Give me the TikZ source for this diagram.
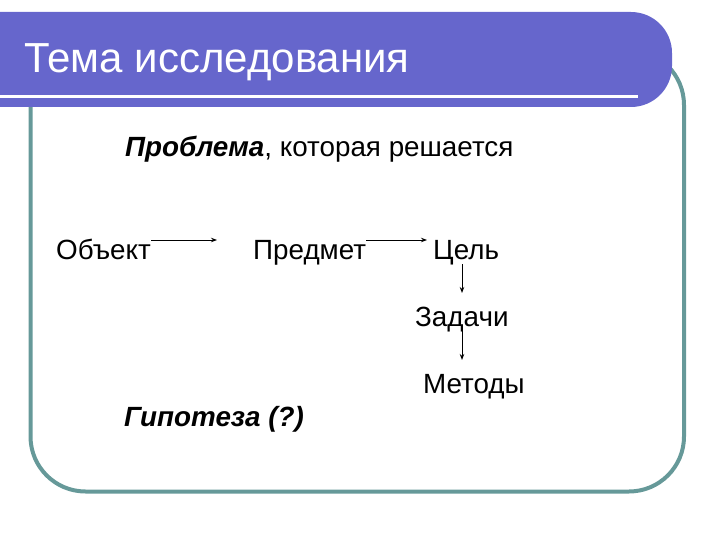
\documentclass[tikz,border=0pt]{standalone}
\usepackage{fontspec}
\setmainfont{Liberation Sans}
\usetikzlibrary{arrows.meta}
\definecolor{barblue}{HTML}{6666CC}
\definecolor{frameteal}{HTML}{669999}
\tikzset{
  body/.style={anchor=base west, inner sep=0pt, font=\fontsize{27.8}{32}\selectfont},
  arr/.style={line width=1pt, -{Stealth[length=6pt,width=4.5pt]}},
}
\begin{document}
\begin{tikzpicture}[x=1pt,y=-1pt]
\useasboundingbox (0,0) rectangle (720,540);
% frame
\draw[frameteal, line width=4pt, rounded corners=55pt] (30.5,50) rectangle (684,491.5);
% title bar
\fill[barblue, rounded corners=41pt] (-60,12) rectangle (672,107);
\fill[white] (-5,95) rectangle (638,98);
\node[anchor=base west, inner sep=0pt, text=white, font=\fontsize{42}{48}\selectfont] (title) at (24,73) {Тема исследования};
% texts
\node[body] (prob) at (125,157) {\textbf{\textit{Проблема}}, которая решается};
\node[body] (obj) at (56,259) {Объект};
\node[body] (pred) at (253,259) {Предмет};
\node[body] (cel) at (433,259) {Цель};
\node[body] (zad) at (415,326) {Задачи};
\node[body] (met) at (423,393) {Методы};
\node[body] (gip) at (124,426) {\textbf{\textit{Гипотеза (?)}}};
% arrows
\coordinate (a1s) at (150,240);
\coordinate (a1e) at (217,240);
\coordinate (a2s) at (367,240);
\coordinate (a2e) at (427,240);
\coordinate (v1s) at (462,264);
\coordinate (v1e) at (462,293);
\coordinate (v2s) at (462,329);
\coordinate (v2e) at (462,360);
\draw[arr] (obj.east |- a1s) -- (a1e);
\draw[arr] (pred.east |- a2s) -- (a2e);
\draw[arr] (v1s) -- (v1e);
\draw[arr] (v2s) -- (v2e);
\end{tikzpicture}
\end{document}
